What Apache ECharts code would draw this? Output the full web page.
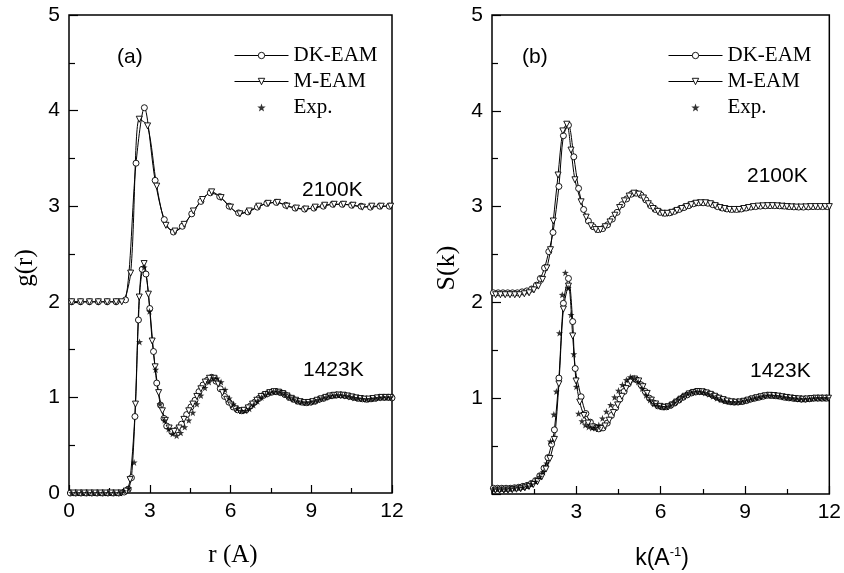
<!DOCTYPE html>
<html>
<head>
<meta charset="utf-8">
<script src="https://cdn.jsdelivr.net/npm/echarts@6/dist/echarts.min.js"></script>
<style>
  html, body { margin: 0; padding: 0; background: #fff; }
  #chart { width: 844px; height: 573px; }
</style>
</head>
<body>
<div id="chart"></div>
<script>
// ---- (a) g(r), 2100K curves are shifted up by 2 ----
var r2100DK = [0.1,0.43,0.76,1.09,1.42,1.75,2.1,2.49,2.8,3.2,3.54,3.88,4.21,4.56,4.9,5.25,5.6,5.95,6.3,6.65,7.0,7.35,7.7,8.05,8.4,8.75,9.1,9.45,9.8,10.15,10.5,10.85,11.2,11.55,11.9];
var g2100DK = [2.0,2.0,2.0,2.0,2.0,2.0,2.02,3.45,4.03,3.27,2.86,2.73,2.79,2.92,3.05,3.14,3.10,3.00,2.93,2.94,2.99,3.03,3.04,3.01,2.98,2.97,2.98,3.00,3.02,3.02,3.01,3.00,2.99,3.00,3.00];
var r2100M = [0.1,0.43,0.76,1.09,1.42,1.75,1.96,2.29,2.61,2.92,3.26,3.6,3.94,4.28,4.62,4.96,5.3,5.65,6.0,6.35,6.7,7.05,7.4,7.75,8.1,8.45,8.8,9.15,9.5,9.85,10.2,10.55,10.9,11.25,11.6,11.95];
var g2100M = [2.0,2.0,2.0,2.0,2.0,2.0,2.0,2.30,3.91,3.84,3.21,2.80,2.74,2.81,2.95,3.07,3.15,3.09,2.99,2.92,2.95,3.00,3.03,3.04,3.00,2.98,2.97,2.99,3.01,3.02,3.02,3.01,2.99,3.00,3.00,3.00];

var r1423DK = [0.05,0.25,0.45,0.65,0.85,1.05,1.25,1.45,1.65,1.85,2.05,2.2,2.32,2.45,2.58,2.72,2.86,3.0,3.14,3.26,3.4,3.53,3.63,3.82,4.0,4.18,4.37,4.53,4.68,4.83,4.98,5.14,5.3,5.46,5.62,5.78,5.94,6.1,6.26,6.42,6.58,6.74,6.9,7.06,7.22,7.38,7.54,7.7,7.86,8.02,8.18,8.34,8.5,8.66,8.82,8.98,9.14,9.3,9.46,9.62,9.78,9.94,10.1,10.26,10.42,10.58,10.74,10.9,11.06,11.22,11.38,11.54,11.7,11.86,12.0];
var g1423DK = [0,0,0,0,0,0,0,0,0,0,0.01,0.04,0.16,0.80,1.81,2.34,2.29,1.93,1.48,1.15,0.92,0.78,0.70,0.64,0.66,0.72,0.82,0.90,0.97,1.06,1.13,1.18,1.21,1.17,1.09,1.01,0.95,0.90,0.87,0.86,0.87,0.91,0.95,0.99,1.02,1.04,1.055,1.06,1.05,1.03,1.0,0.98,0.96,0.95,0.945,0.95,0.96,0.98,0.99,1.01,1.02,1.025,1.025,1.02,1.01,1.0,0.99,0.985,0.98,0.985,0.99,1.0,1.0,1.0,0.995];
var r1423M = [0.15,0.35,0.55,0.75,0.95,1.15,1.35,1.55,1.75,1.95,2.13,2.27,2.47,2.61,2.79,2.95,3.09,3.2,3.33,3.47,3.58,3.72,3.91,4.09,4.27,4.45,4.6,4.75,4.9,5.06,5.22,5.38,5.54,5.7,5.86,6.02,6.18,6.34,6.5,6.66,6.82,6.98,7.14,7.3,7.46,7.62,7.78,7.94,8.1,8.26,8.42,8.58,8.74,8.9,9.06,9.22,9.38,9.54,9.7,9.86,10.02,10.18,10.34,10.5,10.66,10.82,10.98,11.14,11.3,11.46,11.62,11.78,11.94];
var g1423M = [0,0,0,0,0,0,0,0,0,0,0.02,0.14,0.93,2.05,2.40,2.08,1.59,1.32,1.05,0.86,0.76,0.68,0.645,0.68,0.77,0.86,0.93,1.01,1.09,1.16,1.20,1.20,1.14,1.05,0.98,0.92,0.88,0.86,0.865,0.89,0.93,0.97,1.01,1.03,1.05,1.06,1.055,1.04,1.015,0.99,0.97,0.955,0.945,0.947,0.955,0.97,0.985,1.0,1.015,1.022,1.025,1.023,1.015,1.005,0.995,0.988,0.982,0.982,0.988,0.995,1.0,1.0,1.0];
var r1423Exp = [0.1,0.3,0.5,0.7,0.9,1.1,1.3,1.5,1.7,1.9,2.02,2.22,2.42,2.62,2.79,2.99,3.22,3.38,3.55,3.7,3.85,4.0,4.15,4.3,4.45,4.6,4.75,4.9,5.05,5.2,5.35,5.5,5.65,5.8,5.95,6.1,6.25,6.4,6.55,6.7,6.85,7.0,7.15,7.3,7.45,7.6,7.75,7.9,8.05,8.2,8.35,8.5,8.65,8.8,8.95,9.1,9.25,9.4,9.55,9.7,9.85,10.0,10.15,10.3,10.45,10.6,10.75,10.9,11.05,11.2,11.35,11.5,11.65,11.8,11.95];
var g1423Exp = [0,0,0,0,0,0,0,0,0,0,0.02,0.05,0.32,1.58,2.36,1.90,1.29,0.93,0.76,0.67,0.62,0.60,0.63,0.69,0.76,0.84,0.93,1.02,1.10,1.16,1.20,1.20,1.16,1.08,0.99,0.93,0.88,0.86,0.86,0.88,0.92,0.96,1.0,1.03,1.05,1.06,1.06,1.05,1.03,1.0,0.98,0.96,0.95,0.945,0.95,0.96,0.975,0.99,1.0,1.015,1.02,1.025,1.02,1.015,1.005,0.995,0.99,0.985,0.98,0.985,0.99,0.995,1.0,1.0,1.0];

// ---- (b) S(k), 2100K curves are shifted up by 2 ----
var k2100DK = [0.05,0.22,0.39,0.56,0.73,0.9,1.07,1.24,1.41,1.58,1.72,1.87,2.02,2.17,2.38,2.54,2.72,2.91,3.08,3.26,3.43,3.6,3.77,3.94,4.11,4.28,4.45,4.62,4.79,4.96,5.13,5.3,5.47,5.64,5.81,5.98,6.15,6.32,6.49,6.66,6.83,7.0,7.17,7.34,7.51,7.68,7.85,8.02,8.19,8.36,8.53,8.7,8.87,9.04,9.21,9.38,9.55,9.72,9.89,10.06,10.23,10.4,10.57,10.74,10.91,11.08,11.25,11.42,11.59,11.76,11.93];
var s2100DK = [2.10,2.10,2.10,2.10,2.10,2.10,2.11,2.12,2.14,2.18,2.25,2.36,2.53,2.73,3.21,3.74,3.85,3.52,3.19,2.97,2.85,2.79,2.76,2.77,2.81,2.87,2.94,3.02,3.08,3.13,3.14,3.12,3.07,3.01,2.97,2.94,2.93,2.935,2.95,2.97,2.99,3.01,3.03,3.04,3.04,3.035,3.02,3.0,2.985,2.975,2.97,2.97,2.975,2.985,2.995,3.0,3.005,3.008,3.01,3.01,3.008,3.005,3.0,2.997,2.995,2.995,2.997,3.0,3.0,3.0,3.0];
var k2100M = [0.13,0.3,0.47,0.64,0.81,0.98,1.15,1.32,1.49,1.65,1.8,1.95,2.08,2.18,2.35,2.52,2.66,2.81,2.95,3.17,3.35,3.52,3.69,3.86,4.03,4.2,4.37,4.54,4.71,4.88,5.05,5.22,5.39,5.56,5.73,5.9,6.07,6.24,6.41,6.58,6.75,6.92,7.09,7.26,7.43,7.6,7.77,7.94,8.11,8.28,8.45,8.62,8.79,8.96,9.13,9.3,9.47,9.64,9.81,9.98,10.15,10.32,10.49,10.66,10.83,11.0,11.17,11.34,11.51,11.68,11.85,12.0];
var s2100M = [2.08,2.08,2.08,2.08,2.08,2.08,2.09,2.10,2.13,2.17,2.24,2.36,2.55,2.85,3.33,3.79,3.86,3.59,3.28,3.05,2.89,2.80,2.76,2.76,2.79,2.84,2.91,2.99,3.06,3.11,3.14,3.13,3.09,3.03,2.98,2.95,2.93,2.93,2.94,2.96,2.98,3.0,3.02,3.035,3.04,3.04,3.03,3.01,2.99,2.98,2.97,2.97,2.97,2.98,2.99,3.0,3.005,3.008,3.01,3.01,3.008,3.004,3.0,2.997,2.995,2.995,2.997,3.0,3.0,3.0,3.0,3.0];

var k1423DK = [0.05,0.2,0.35,0.5,0.65,0.8,0.95,1.1,1.25,1.4,1.55,1.7,1.85,1.99,2.12,2.22,2.38,2.54,2.72,2.87,2.96,3.17,3.34,3.5,3.65,3.8,3.95,4.1,4.25,4.4,4.55,4.7,4.85,5.0,5.15,5.3,5.45,5.6,5.75,5.9,6.05,6.2,6.35,6.5,6.65,6.8,6.95,7.1,7.25,7.4,7.55,7.7,7.85,8.0,8.15,8.3,8.45,8.6,8.75,8.9,9.05,9.2,9.35,9.5,9.65,9.8,9.95,10.1,10.25,10.4,10.55,10.7,10.85,11.0,11.15,11.3,11.45,11.6,11.75,11.9];
var s1423DK = [0.06,0.06,0.06,0.06,0.06,0.065,0.07,0.08,0.09,0.11,0.14,0.19,0.27,0.38,0.52,0.67,1.21,1.99,2.25,1.80,1.31,1.015,0.84,0.75,0.70,0.68,0.69,0.74,0.82,0.90,0.99,1.07,1.15,1.20,1.19,1.14,1.07,1.00,0.95,0.92,0.91,0.91,0.925,0.95,0.98,1.01,1.035,1.055,1.065,1.07,1.065,1.05,1.03,1.01,0.99,0.975,0.965,0.96,0.96,0.965,0.975,0.99,1.0,1.01,1.02,1.03,1.028,1.025,1.02,1.01,1.005,1.0,0.995,0.99,0.99,0.995,1.0,1.0,1.0,1.0];
var k1423M = [0.12,0.27,0.42,0.57,0.72,0.87,1.02,1.17,1.32,1.47,1.62,1.77,1.92,2.06,2.22,2.38,2.54,2.72,2.87,2.99,3.12,3.27,3.42,3.57,3.72,3.87,4.02,4.17,4.32,4.47,4.62,4.77,4.92,5.07,5.22,5.37,5.52,5.67,5.82,5.97,6.12,6.27,6.42,6.57,6.72,6.87,7.02,7.17,7.32,7.47,7.62,7.77,7.92,8.07,8.22,8.37,8.52,8.67,8.82,8.97,9.12,9.27,9.42,9.57,9.72,9.87,10.02,10.17,10.32,10.47,10.62,10.77,10.92,11.07,11.22,11.37,11.52,11.67,11.82,11.97];
var s1423M = [0.04,0.04,0.04,0.04,0.045,0.05,0.055,0.065,0.08,0.10,0.13,0.18,0.26,0.37,0.57,1.15,1.93,2.17,1.65,1.18,0.96,0.82,0.74,0.70,0.68,0.685,0.71,0.77,0.85,0.93,1.02,1.10,1.17,1.20,1.18,1.12,1.05,0.98,0.94,0.915,0.905,0.91,0.93,0.96,0.99,1.02,1.045,1.06,1.07,1.067,1.055,1.04,1.02,1.0,0.985,0.97,0.962,0.958,0.96,0.968,0.98,0.993,1.005,1.015,1.025,1.03,1.028,1.022,1.015,1.008,1.002,0.997,0.993,0.99,0.992,0.996,1.0,1.0,1.0,1.0];
var k1423Exp = [0.05,0.2,0.35,0.5,0.65,0.8,0.95,1.1,1.25,1.4,1.55,1.7,1.82,1.95,2.08,2.2,2.29,2.4,2.5,2.61,2.71,2.81,2.91,3.0,3.08,3.2,3.32,3.44,3.56,3.68,3.8,3.93,4.07,4.22,4.36,4.5,4.64,4.78,4.92,5.06,5.2,5.34,5.48,5.62,5.76,5.9,6.04,6.18,6.32,6.46,6.6,6.74,6.88,7.02,7.16,7.3,7.44,7.58,7.72,7.86,8.0,8.14,8.28,8.42,8.56,8.7,8.84,8.98,9.12,9.26,9.4,9.54,9.68,9.82,9.96,10.1,10.24,10.38,10.52,10.66,10.8,10.94,11.08,11.22,11.36,11.5,11.64,11.78,11.92];
var s1423Exp = [0.05,0.05,0.05,0.05,0.055,0.06,0.065,0.07,0.08,0.10,0.13,0.18,0.23,0.32,0.55,0.83,1.07,1.68,2.08,2.31,2.15,1.87,1.46,1.12,0.84,0.76,0.72,0.70,0.69,0.69,0.72,0.79,0.86,0.93,1.01,1.08,1.14,1.19,1.22,1.21,1.17,1.10,1.03,0.98,0.94,0.92,0.91,0.91,0.925,0.95,0.98,1.01,1.035,1.055,1.065,1.07,1.065,1.055,1.04,1.02,1.0,0.985,0.97,0.962,0.958,0.96,0.965,0.975,0.985,0.995,1.005,1.015,1.025,1.03,1.028,1.025,1.02,1.012,1.005,1.0,0.995,0.99,0.99,0.992,0.996,1.0,1.0,1.0,1.0];

var xTicks = [0, 3, 6, 9, 12];
var yTicks = [0, 1, 2, 3, 4, 5];

var chart = echarts.init(document.getElementById('chart'));

var STAR = 'path://M0,-10L2.35,-3.24L9.51,-3.09L3.8,1.24L5.88,8.09L0,4L-5.88,8.09L-3.8,1.24L-9.51,-3.09L-2.35,-3.24Z';
var sans = 'Liberation Sans';
var serif = 'Liberation Serif';

function pairs(xs, ys) {
    return xs.map(function (x, i) { return [x, ys[i]]; });
}

function dkLine(xi, xs, ys) {
    return {
        name: 'DK-EAM', type: 'line', xAxisIndex: xi, yAxisIndex: xi,
        data: pairs(xs, ys), smooth: 0.3,
        symbol: 'circle', symbolSize: 6, showAllSymbol: true,
        lineStyle: { color: '#000', width: 1 },
        itemStyle: { color: '#fff', borderColor: '#000', borderWidth: 0.9 },
        z: 3
    };
}
function mLine(xi, xs, ys) {
    return {
        name: 'M-EAM', type: 'line', xAxisIndex: xi, yAxisIndex: xi,
        data: pairs(xs, ys), smooth: 0.3,
        symbol: 'triangle', symbolRotate: 180, symbolSize: 6, showAllSymbol: true,
        lineStyle: { color: '#000', width: 1 },
        itemStyle: { color: '#fff', borderColor: '#000', borderWidth: 0.9 },
        z: 3
    };
}
function expDots(xi, xs, ys) {
    return {
        name: 'Exp.', type: 'scatter', xAxisIndex: xi, yAxisIndex: xi,
        data: pairs(xs, ys), symbol: STAR, symbolSize: 7,
        itemStyle: { color: '#000' }, z: 4
    };
}

function xAx(gi, hideZero) {
    return {
        type: 'value', gridIndex: gi, min: 0, max: 12, interval: 3,
        axisLine: { show: false },
        axisTick: { inside: true, length: 8, lineStyle: { color: '#000', width: 1.2 } },
        minorTick: { show: true, splitNumber: 2, length: 5, lineStyle: { color: '#000', width: 1.2 } },
        splitLine: { show: false },
        axisLabel: {
            color: '#000', fontFamily: sans, fontSize: 21, margin: 8,
            formatter: function (v) { return (hideZero && v === 0) ? '' : xTicks.indexOf(v) >= 0 ? String(v) : ''; }
        }
    };
}
function yAx(gi, hideZero) {
    return {
        type: 'value', gridIndex: gi, min: 0, max: 5, interval: 1,
        axisLine: { show: false },
        axisTick: { inside: true, length: 9, lineStyle: { color: '#000', width: 1.2 } },
        minorTick: { show: true, splitNumber: 2, length: 6, lineStyle: { color: '#000', width: 1.2 } },
        splitLine: { show: false },
        axisLabel: {
            color: '#000', fontFamily: sans, fontSize: 21, margin: 9,
            formatter: function (v) { return (hideZero && v === 0) ? '' : yTicks.indexOf(v) >= 0 ? String(v) : ''; }
        }
    };
}

function legendAt(left) {
    return {
        left: left, top: 45, orient: 'vertical', padding: 0,
        itemWidth: 54, itemHeight: 8, itemGap: 5,
        selectedMode: false,
        lineStyle: { width: 1, color: '#000' },
        itemStyle: { borderWidth: 0.9 },
        textStyle: { fontFamily: serif, fontSize: 21, color: '#000' },
        data: ['DK-EAM', 'M-EAM', 'Exp.']
    };
}

function label(x, y, txt, size, font, align) {
    return {
        type: 'text', x: x, y: y,
        style: { text: txt, fontFamily: font, fontSize: size, fill: '#000', align: align || 'left', verticalAlign: 'middle' }
    };
}

var option = {
    animation: false,
    backgroundColor: '#fff',
    grid: [
        { left: 69, top: 15, width: 323, height: 478, show: true, borderColor: '#000', borderWidth: 1.5, backgroundColor: 'transparent' },
        { left: 492, top: 15, width: 340, height: 479, show: true, borderColor: '#000', borderWidth: 1.5, backgroundColor: 'transparent' }
    ],
    xAxis: [xAx(0, false), xAx(1, true)],
    yAxis: [yAx(0, false), yAx(1, true)],
    legend: [legendAt(234), legendAt(668)],
    graphic: [
        label(117, 57, '(a)', 21, sans),
        label(522, 57, '(b)', 21, sans),
        label(302, 190, '2100K', 21, sans),
        label(303, 370, '1423K', 21, sans),
        label(747, 176, '2100K', 21, sans),
        label(750, 371, '1423K', 21, sans),
        label(233, 555, 'r (A)', 25, serif, 'center'),
        { type: 'text', x: 25, y: 268, rotation: Math.PI / 2,
          style: { text: 'g(r)', fontFamily: serif, fontSize: 25, fill: '#000', align: 'center', verticalAlign: 'middle' } },
        { type: 'text', x: 447, y: 268, rotation: Math.PI / 2,
          style: { text: 'S(k)', fontFamily: serif, fontSize: 26, fill: '#000', align: 'center', verticalAlign: 'middle' } },
        { type: 'text', x: 662, y: 559,
          style: { text: '{a|k(A}{b|-1}{a|)}', fill: '#000', align: 'center', verticalAlign: 'middle',
                   rich: { a: { fontFamily: sans, fontSize: 23, fill: '#000' },
                           b: { fontFamily: sans, fontSize: 13, fill: '#000', padding: [0, 0, 14, 0] } } } }
    ],
    series: [
        dkLine(0, r2100DK, g2100DK),
        mLine(0, r2100M, g2100M),
        dkLine(0, r1423DK, g1423DK),
        mLine(0, r1423M, g1423M),
        expDots(0, r1423Exp, g1423Exp),
        dkLine(1, k2100DK, s2100DK),
        mLine(1, k2100M, s2100M),
        dkLine(1, k1423DK, s1423DK),
        mLine(1, k1423M, s1423M),
        expDots(1, k1423Exp, s1423Exp)
    ]
};

chart.setOption(option);
</script>
</body>
</html>
